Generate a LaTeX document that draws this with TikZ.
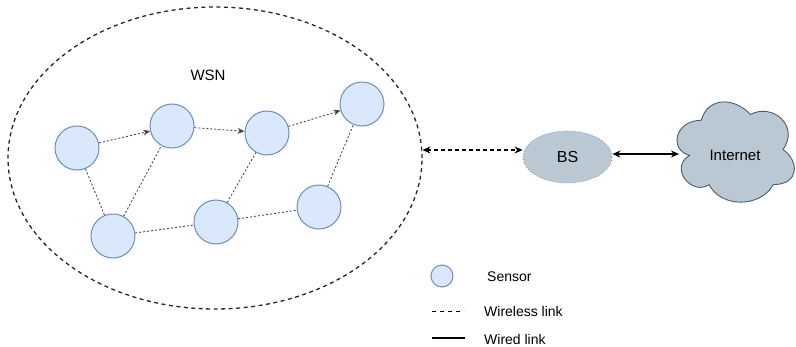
\documentclass[tikz,border=0pt]{standalone}
\usepackage{fontspec}
\setmainfont{Liberation Sans}
\usetikzlibrary{shapes.geometric,arrows.meta}
\definecolor{sfill}{HTML}{DAE8FC}
\definecolor{sdraw}{HTML}{6C8EBF}
\definecolor{bsfill}{HTML}{BAC8D3}
\definecolor{bsdraw}{HTML}{23445D}
\tikzset{
  sensor/.style={circle,fill=sfill,draw=sdraw,line width=1pt,minimum size=44pt,inner sep=0pt},
  wl/.style={draw=black!70,line width=0.9pt,dash pattern=on 2pt off 2pt},
  wla/.style={wl,-{Stealth[length=7pt,width=6pt,fill=black]}},
  lbl/.style={font=\fontsize{14}{16}\selectfont,anchor=west,inner sep=0pt},
  big/.style={{Stealth[length=8pt,width=7pt]}-{Stealth[length=8pt,width=7pt]}},
}
\begin{document}
\begin{tikzpicture}[x=1pt,y=-1pt]
\useasboundingbox (0,0) rectangle (796,346);
\node[ellipse,draw=black!85,line width=1.3pt,dash pattern=on 4pt off 3.5pt,minimum width=414pt,minimum height=302pt,inner sep=0pt] (wsn) at (215,158) {};
\node[font=\fontsize{15}{17}\selectfont] (wsnl) at (208,75) {WSN};
\node[sensor] (n1) at (77,148) {};
\node[sensor] (n2) at (172,126) {};
\node[sensor] (n3) at (267,133) {};
\node[sensor] (n4) at (362,104) {};
\node[sensor] (n5) at (113,236) {};
\node[sensor] (n6) at (216,222) {};
\node[sensor] (n7) at (319,207) {};
\draw[wla] (n1) -- (n2);
\draw[wla] (n2) -- (n3);
\draw[wla] (n3) -- (n4);
\draw[wl] (n1) -- (n5);
\draw[wl] (n5) -- (n2);
\draw[wl] (n5) -- (n6);
\draw[wl] (n6) -- (n3);
\draw[wl] (n6) -- (n7);
\draw[wl] (n7) -- (n4);
\node[ellipse,fill=bsfill,draw=bsdraw!55,line width=0.8pt,dotted,minimum width=89pt,minimum height=52pt,inner sep=0pt,font=\fontsize{16}{18}\selectfont] (bs) at (567.5,157) {BS};
\filldraw[fill=bsfill,draw=bsdraw!85,line width=0.9pt]
  (701.25,120.25) .. controls (675.05,120.25) and (668.5,149.5) .. (689.46,155.35)
  .. controls (668.5,168.2) and (692.08,196.3) .. (709.11,184.6)
  .. controls (720.9,208) and (760.2,208) .. (773.3,184.6)
  .. controls (799.5,184.6) and (799.5,161.2) .. (783.1,149.5)
  .. controls (799.5,126.1) and (773.3,102.7) .. (750.4,114.4)
  .. controls (734,96.85) and (707.8,96.85) .. (701.25,120.25) -- cycle;
\node[font=\fontsize{15}{17}\selectfont] (net) at (735,155) {Internet};
\coordinate (wr) at (422.5,150);
\coordinate (netw) at (679,154);
\draw[line width=1.3pt,dash pattern=on 4pt off 3pt,big] (wr) -- (bs.west |- wr);
\draw[line width=1.2pt,big] (bs.east |- netw) -- (netw);
\node[circle,fill=sfill,draw=sdraw,line width=1pt,minimum size=22pt,inner sep=0pt] (leg1) at (442,276) {};
\node[lbl] (leg1t) at (487,277) {Sensor};
\coordinate (l2a) at (432,311);
\coordinate (l2b) at (464,311);
\draw[line width=1pt,dash pattern=on 4pt off 4pt] (l2a) -- (l2b);
\node[lbl] (leg2t) at (484,311) {Wireless link};
\coordinate (l3a) at (432,338);
\coordinate (l3b) at (465,338);
\draw[line width=1.2pt] (l3a) -- (l3b);
\node[lbl] (leg3t) at (484,339) {Wired link};
\end{tikzpicture}
\end{document}
